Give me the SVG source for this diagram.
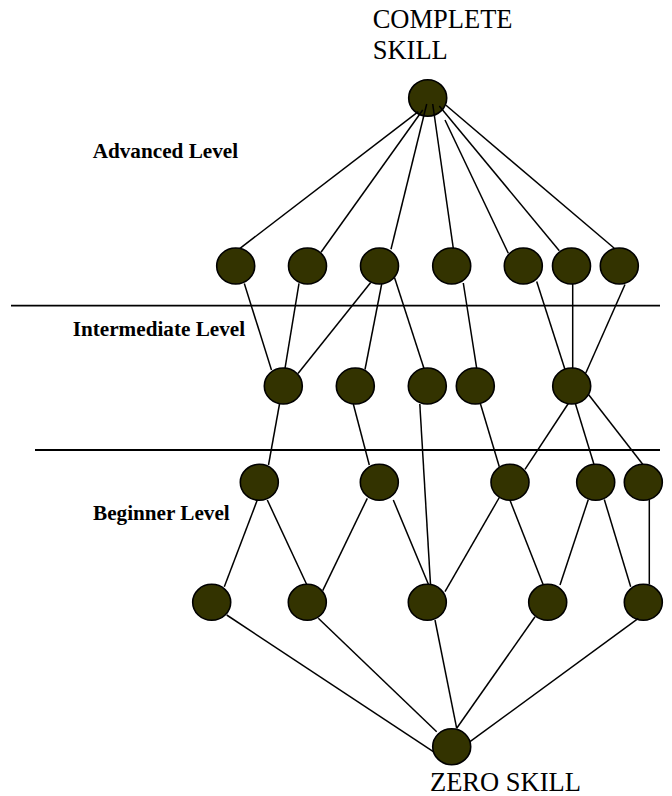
<svg xmlns="http://www.w3.org/2000/svg" width="672" height="796" viewBox="0 0 672 796">
  <style>
    .node { fill: #333300; stroke: #000; stroke-width: 1.6; }
    .edge { stroke: #000; stroke-width: 1.5; fill: none; }
    .sep { stroke: #000; stroke-width: 1.8; }
    .title { font-family: "Liberation Serif", "Times New Roman", serif; font-size: 26.5px; fill: #000; }
    .level { font-family: "Liberation Serif", "Times New Roman", serif; font-size: 21.2px; font-weight: bold; fill: #000; }
  </style>
  <rect width="672" height="796" fill="#fff"/>

  <!-- level separators -->
  <g id="separators">
    <line class="sep" x1="11" y1="305.7" x2="660" y2="305.7"/>
    <line class="sep" x1="35" y1="450" x2="660" y2="450"/>
  </g>

  <!-- labels -->
  <g id="labels">
    <text class="title" x="372.7" y="28.3">COMPLETE</text>
    <text class="title" x="372.7" y="59.3">SKILL</text>
    <text class="title" x="430" y="791">ZERO SKILL</text>
    <text class="level" x="92.7" y="158.3">Advanced Level</text>
    <text class="level" x="72.7" y="336">Intermediate Level</text>
    <text class="level" x="93" y="520">Beginner Level</text>
  </g>

  <!-- nodes -->
  <g id="top"><ellipse class="node" cx="427.7" cy="98" rx="19" ry="18.3"/></g>

  <g id="a1"><ellipse class="node" cx="235.7" cy="266" rx="19" ry="18"/></g>
  <g id="a2"><ellipse class="node" cx="307.5" cy="266" rx="19" ry="18"/></g>
  <g id="a3"><ellipse class="node" cx="379.5" cy="266" rx="19" ry="18"/></g>
  <g id="a4"><ellipse class="node" cx="451.7" cy="266" rx="19" ry="18"/></g>
  <g id="a5"><ellipse class="node" cx="523.3" cy="266" rx="19" ry="18"/></g>
  <g id="a6"><ellipse class="node" cx="571.5" cy="266" rx="19" ry="18"/></g>
  <g id="a7"><ellipse class="node" cx="619.3" cy="266" rx="19" ry="18"/></g>

  <g id="i1"><ellipse class="node" cx="283.3" cy="386" rx="19" ry="18"/></g>
  <g id="i2"><ellipse class="node" cx="355.3" cy="386" rx="19" ry="18"/></g>
  <g id="i3"><ellipse class="node" cx="427.3" cy="386" rx="19" ry="18"/></g>
  <g id="i4"><ellipse class="node" cx="475.3" cy="386" rx="19" ry="18"/></g>
  <g id="i5"><ellipse class="node" cx="571.7" cy="386" rx="19" ry="18"/></g>

  <g id="b1"><ellipse class="node" cx="259.3" cy="482.3" rx="19" ry="18"/></g>
  <g id="b2"><ellipse class="node" cx="379.3" cy="482.3" rx="19" ry="18"/></g>
  <g id="b3"><ellipse class="node" cx="510" cy="482.3" rx="19" ry="18"/></g>
  <g id="b4"><ellipse class="node" cx="595.7" cy="482.3" rx="19" ry="18"/></g>
  <g id="b5"><ellipse class="node" cx="643.3" cy="482.3" rx="19" ry="18"/></g>

  <g id="c1"><ellipse class="node" cx="211.7" cy="602.3" rx="19" ry="18"/></g>
  <g id="c2"><ellipse class="node" cx="307.3" cy="602.3" rx="19" ry="18"/></g>
  <g id="c3"><ellipse class="node" cx="427.3" cy="602.3" rx="19" ry="18"/></g>
  <g id="c4"><ellipse class="node" cx="547.7" cy="602.3" rx="19" ry="18"/></g>
  <g id="c5"><ellipse class="node" cx="643.3" cy="602.3" rx="19" ry="18"/></g>

  <g id="zero"><ellipse class="node" cx="451.7" cy="746.7" rx="19" ry="18"/></g>

  <!-- connectors -->
  <g id="connectors">
    <!-- complete skill to advanced row -->
    <line class="edge" x1="418.3" y1="111.7" x2="240" y2="248.3"/>
    <line class="edge" x1="422.7" y1="110" x2="321" y2="252.3"/>
    <line class="edge" x1="426.7" y1="104" x2="391" y2="249.3"/>
    <line class="edge" x1="432.7" y1="104" x2="453.3" y2="248.3"/>
    <line class="edge" x1="445" y1="120" x2="508.3" y2="253.3"/>
    <line class="edge" x1="439.3" y1="106" x2="559.3" y2="250.7"/>
    <line class="edge" x1="446" y1="105.3" x2="614.3" y2="248.3"/>

    <!-- advanced to intermediate -->
    <line class="edge" x1="244.3" y1="283.5" x2="271.5" y2="370"/>
    <line class="edge" x1="299" y1="283.3" x2="285" y2="368.3"/>
    <line class="edge" x1="370.7" y1="282.5" x2="298" y2="373.5"/>
    <line class="edge" x1="381.7" y1="284" x2="365" y2="369.5"/>
    <line class="edge" x1="394.5" y1="277.5" x2="424" y2="368.5"/>
    <line class="edge" x1="463.3" y1="283" x2="476.7" y2="368.3"/>
    <line class="edge" x1="536.7" y1="281.5" x2="565" y2="369.5"/>
    <line class="edge" x1="572.7" y1="284" x2="572.7" y2="368"/>
    <line class="edge" x1="625" y1="284.5" x2="585.7" y2="373.3"/>

    <!-- intermediate to beginner -->
    <line class="edge" x1="279.5" y1="404" x2="268.5" y2="465"/>
    <line class="edge" x1="353.3" y1="404" x2="369.3" y2="465"/>
    <line class="edge" x1="480.5" y1="404" x2="499.3" y2="466.7"/>
    <line class="edge" x1="568.3" y1="403.5" x2="525" y2="469.3"/>
    <line class="edge" x1="575.5" y1="404" x2="594" y2="464.5"/>
    <line class="edge" x1="588.5" y1="394.5" x2="642.7" y2="464.3"/>
    <!-- long drop from intermediate to the fourth row -->
    <line class="edge" x1="419.8" y1="404" x2="430.5" y2="584.5"/>

    <!-- beginner to fourth row -->
    <line class="edge" x1="257.3" y1="500" x2="224.3" y2="586.7"/>
    <line class="edge" x1="267.3" y1="500" x2="306.7" y2="584.5"/>
    <line class="edge" x1="367.3" y1="498.3" x2="322.7" y2="590.7"/>
    <line class="edge" x1="393.3" y1="500" x2="428.5" y2="584.5"/>
    <line class="edge" x1="499.3" y1="497.5" x2="445" y2="591.7"/>
    <line class="edge" x1="510" y1="500.3" x2="543.3" y2="585"/>
    <line class="edge" x1="588.3" y1="499.5" x2="560" y2="585"/>
    <line class="edge" x1="604.3" y1="499.5" x2="630.7" y2="586.7"/>
    <line class="edge" x1="649.3" y1="500" x2="649.3" y2="584.5"/>

    <!-- fourth row to zero skill -->
    <line class="edge" x1="226.7" y1="615" x2="433.3" y2="751.7"/>
    <line class="edge" x1="318.3" y1="618.3" x2="436.7" y2="731.7"/>
    <line class="edge" x1="435" y1="620" x2="456.7" y2="728.3"/>
    <line class="edge" x1="535" y1="616.7" x2="456.7" y2="728.3"/>
    <line class="edge" x1="638.3" y1="618.3" x2="470" y2="741.7"/>
  </g>
</svg>
